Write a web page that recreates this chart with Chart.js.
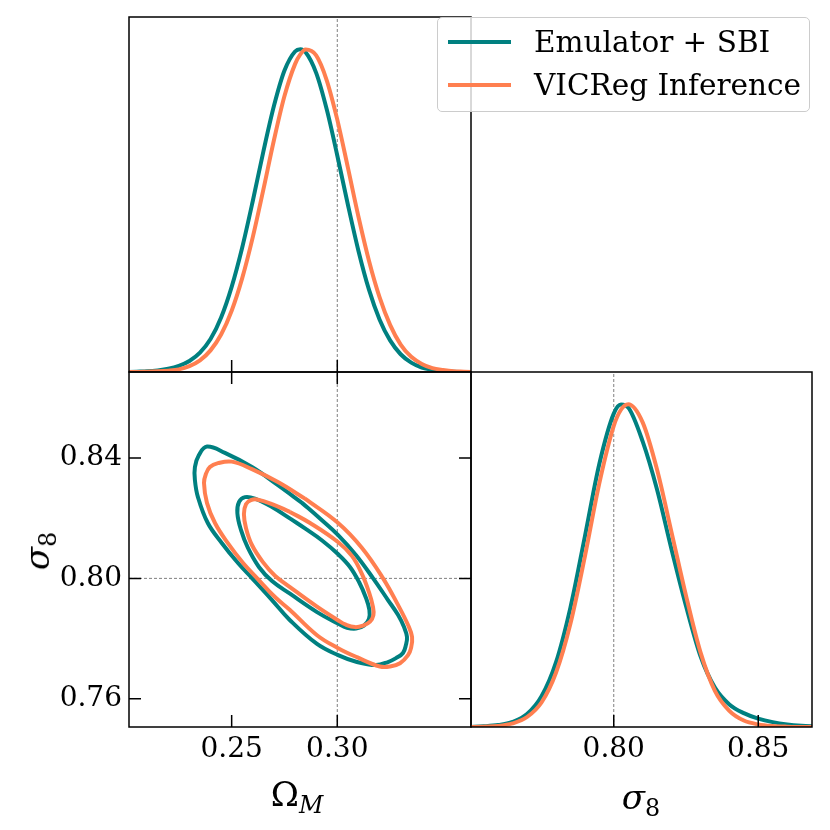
<!DOCTYPE html>
<html>
<head>
<meta charset="utf-8">
<script src="https://cdn.jsdelivr.net/npm/chart.js@4.4.1/dist/chart.umd.min.js"></script>
<style>
  body { margin: 0; background: #fff; }
  #wrap { position: relative; width: 830px; height: 830px; overflow: hidden; }
  #wrap canvas { position: absolute; left: 0; top: 0; }
  .ttl { position: absolute; font-family: "DejaVu Serif"; font-size: 34px; line-height: 1; color: #000;
         white-space: nowrap; transform: translate(-50%, -50%); }
  .ttl sub { font-size: 0.7em; vertical-align: -0.3em; line-height: 0; }
  #legend { position: absolute; left: 437px; top: 17px; width: 373px; height: 95px; box-sizing: border-box;
            border: 1px solid #cccccc; border-radius: 5px; background: rgba(255, 255, 255, 0.8);
            font-family: "DejaVu Serif"; font-size: 29.5px; line-height: 1; color: #000; }
  #legend .sw { position: absolute; left: 10px; width: 63px; height: 4px; }
  #legend .tx { position: absolute; left: 96px; white-space: nowrap; }
</style>
</head>
<body>
<div id="wrap">
  <canvas id="cornerTop" width="830" height="830"></canvas>
  <canvas id="cornerMid" width="830" height="830"></canvas>
  <canvas id="cornerRight" width="830" height="830"></canvas>
  <div class="ttl" style="left:297px; top:794px;">Ω<sub><i>M</i></sub></div>
  <div class="ttl" style="left:641px; top:797px;"><i>σ</i><sub>8</sub></div>
  <div class="ttl" style="left:37px; top:551px; transform: translate(-50%, -50%) rotate(-90deg);"><i>σ</i><sub>8</sub></div>
  <div id="legend">
    <span class="sw" style="top:22px; background:#008080;"></span>
    <span class="tx" style="top:10px;">Emulator + SBI</span>
    <span class="sw" style="top:65px; background:#ff7f50;"></span>
    <span class="tx" style="top:53px;">VICReg Inference</span>
  </div>
</div>
<script>
// axis ranges, ticks and true values
var omRange = [0.2014, 0.3633];
var s8Range = [0.7506, 0.8686];
var densRange = [0, 1.1];
var omTicks = [0.25, 0.30];
var s8TicksY = [0.76, 0.80, 0.84];
var s8TicksX = [0.80, 0.85];
var truthOm = 0.30;
var truthS8 = 0.80;

// 1D marginal of Omega_M (peak normalised to 1)
var omGrid = [0.200, 0.205, 0.210, 0.215, 0.220, 0.225, 0.230, 0.235, 0.240, 0.245, 0.250, 0.255, 0.260, 0.265, 0.270, 0.275,
    0.280, 0.2825, 0.285, 0.290, 0.295, 0.300, 0.305, 0.310, 0.315, 0.320, 0.325, 0.330, 0.335, 0.340, 0.345, 0.350, 0.355, 0.360, 0.365];
var omEmu = [0.000, 0.001, 0.002, 0.005, 0.010, 0.019, 0.034, 0.060, 0.102, 0.169, 0.264, 0.386, 0.530, 0.683, 0.824, 0.934,
    0.993, 1.000, 0.991, 0.927, 0.814, 0.671, 0.519, 0.376, 0.255, 0.163, 0.098, 0.055, 0.029, 0.014, 0.007, 0.003, 0.001, 0.000, 0.000];
var omVic = [0.000, 0.000, 0.001, 0.002, 0.004, 0.008, 0.018, 0.036, 0.067, 0.116, 0.190, 0.291, 0.418, 0.565, 0.718, 0.855,
    0.954, 0.984, 0.999, 0.981, 0.904, 0.782, 0.634, 0.482, 0.345, 0.232, 0.146, 0.085, 0.047, 0.025, 0.012, 0.006, 0.002, 0.001, 0.000];

// 1D marginal of sigma_8
var s8Grid = [0.750, 0.755, 0.760, 0.765, 0.770, 0.775, 0.780, 0.785, 0.790, 0.795, 0.800, 0.8025, 0.805,
    0.810, 0.815, 0.820, 0.825, 0.830, 0.835, 0.840, 0.845, 0.850, 0.855, 0.860, 0.865, 0.870];
var s8Emu = [0.000, 0.002, 0.006, 0.016, 0.040, 0.095, 0.200, 0.370, 0.590, 0.815, 0.971, 0.999, 0.990,
    0.885, 0.735, 0.550, 0.375, 0.220, 0.122, 0.070, 0.043, 0.026, 0.015, 0.008, 0.004, 0.002];
var s8Vic = [0.000, 0.001, 0.003, 0.011, 0.031, 0.076, 0.168, 0.320, 0.528, 0.755, 0.933, 0.983, 1.000,
    0.944, 0.797, 0.603, 0.407, 0.232, 0.112, 0.050, 0.020, 0.008, 0.003, 0.001, 0.000, 0.000];

// 2D contours (outer / inner)
var emuOuterOm = [0.2833, 0.2918, 0.3004, 0.3089, 0.3169, 0.3240, 0.3288, 0.3316, 0.3330, 0.3325, 0.3311, 0.3278, 0.3240, 0.3183, 0.3093, 0.3004,
    0.2904, 0.2776, 0.2691, 0.2596, 0.2530, 0.2454, 0.2387, 0.2340, 0.2326, 0.2326, 0.2345, 0.2383, 0.2468, 0.2596, 0.2719, 0.2833];
var emuOuterS8 = [0.8251, 0.8199, 0.8144, 0.8077, 0.8001, 0.7928, 0.7878, 0.7838, 0.7805, 0.7779, 0.7752, 0.7735, 0.7722, 0.7712, 0.7722, 0.7745,
    0.7782, 0.7861, 0.7928, 0.8001, 0.8051, 0.8117, 0.8184, 0.8271, 0.8327, 0.8370, 0.8410, 0.8438, 0.8417, 0.8370, 0.8310, 0.8251];
var vicOuterOm = [0.2847, 0.3004, 0.3117, 0.3216, 0.3288, 0.3335, 0.3354, 0.3349, 0.3335, 0.3297, 0.3250, 0.3202, 0.3093, 0.3004, 0.2904,
    0.2776, 0.2705, 0.2620, 0.2554, 0.2482, 0.2421, 0.2383, 0.2369, 0.2378, 0.2397, 0.2435, 0.2501, 0.2596, 0.2719, 0.2847];
var vicOuterS8 = [0.8265, 0.8184, 0.8101, 0.8001, 0.7911, 0.7845, 0.7805, 0.7768, 0.7745, 0.7718, 0.7707, 0.7707, 0.7738, 0.7768, 0.7811,
    0.7895, 0.7938, 0.8001, 0.8051, 0.8117, 0.8184, 0.8251, 0.8317, 0.8347, 0.8370, 0.8383, 0.8388, 0.8363, 0.8320, 0.8265];
var emuInnerOm = [0.2781, 0.2847, 0.2928, 0.3003, 0.3060, 0.3103, 0.3136, 0.3152, 0.3150, 0.3126, 0.3089, 0.3046, 0.3003,
    0.2904, 0.2776, 0.2691, 0.2629, 0.2577, 0.2544, 0.2527, 0.2535, 0.2563, 0.2610, 0.2691, 0.2781];
var emuInnerS8 = [0.8197, 0.8166, 0.8126, 0.8081, 0.8038, 0.7988, 0.7935, 0.7895, 0.7865, 0.7843, 0.7833, 0.7836, 0.7850,
    0.7888, 0.7949, 0.7991, 0.8038, 0.8101, 0.8161, 0.8217, 0.8254, 0.8270, 0.8265, 0.8237, 0.8197];
var vicInnerOm = [0.2776, 0.2871, 0.3003, 0.3070, 0.3117, 0.3150, 0.3169, 0.3171, 0.3155, 0.3122, 0.3084, 0.3041, 0.3003,
    0.2904, 0.2776, 0.2705, 0.2648, 0.2596, 0.2568, 0.2558, 0.2568, 0.2591, 0.2620, 0.2691, 0.2776];
var vicInnerS8 = [0.8221, 0.8184, 0.8121, 0.8074, 0.8014, 0.7954, 0.7905, 0.7878, 0.7856, 0.7843, 0.7838, 0.7846, 0.7861,
    0.7906, 0.7971, 0.8009, 0.8054, 0.8111, 0.8167, 0.8214, 0.8247, 0.8260, 0.8262, 0.8247, 0.8221];

var teal = "#008080";
var coral = "#ff7f50";
var tickFont = { family: "DejaVu Serif", size: 28 };

function pts(xs, ys) {
    return xs.map(function (x, i) { return { x: x, y: ys[i] }; });
}

function curve(data, color, order, smooth) {
    var ds = { data: data, showLine: true, pointRadius: 0, borderColor: color, borderWidth: 4, order: order };
    if (smooth === "monotone") ds.cubicInterpolationMode = "monotone";
    else ds.tension = 0.4;
    return ds;
}

function dashed(data) {
    return { data: data, showLine: true, pointRadius: 0, borderColor: "rgba(0,0,0,0.5)", borderWidth: 1, borderDash: [3, 2], order: 9 };
}

// black frame plus inward ticks, positions taken from the chart scales
function frame(sides) {
    return {
        id: "frame",
        afterDatasetsDraw: function (chart) {
            var a = chart.chartArea, ctx = chart.ctx, len = 12;
            var xs = chart.scales.x, ys = chart.scales.y;
            ctx.save();
            ctx.strokeStyle = "#000";
            ctx.lineWidth = 1.5;
            ctx.beginPath();
            (sides.bottom || []).forEach(function (v) { var p = xs.getPixelForValue(v); ctx.moveTo(p, a.bottom); ctx.lineTo(p, a.bottom - len); });
            (sides.top || []).forEach(function (v) { var p = xs.getPixelForValue(v); ctx.moveTo(p, a.top); ctx.lineTo(p, a.top + len); });
            (sides.left || []).forEach(function (v) { var p = ys.getPixelForValue(v); ctx.moveTo(a.left, p); ctx.lineTo(a.left + len, p); });
            (sides.right || []).forEach(function (v) { var p = ys.getPixelForValue(v); ctx.moveTo(a.right, p); ctx.lineTo(a.right - len, p); });
            ctx.stroke();
            ctx.strokeRect(a.left, a.top, a.right - a.left, a.bottom - a.top);
            ctx.restore();
        }
    };
}

function axis(range, ticks, pos, size, pad) {
    return {
        type: "linear",
        position: pos,
        min: range[0],
        max: range[1],
        grid: { display: false, drawTicks: false },
        border: { display: false },
        afterBuildTicks: function (s) { s.ticks = ticks.map(function (v) { return { value: v }; }); },
        afterFit: function (s) { if (pos === "bottom") s.height = size; else s.width = size; },
        ticks: {
            font: tickFont, color: "#000", padding: pad, maxRotation: 0, autoSkip: false,
            callback: function (v) { return v.toFixed(2); }
        }
    };
}

function hidden(range) {
    return { type: "linear", display: false, min: range[0], max: range[1] };
}

function baseOptions(padding, scales) {
    return {
        responsive: false,
        animation: false,
        events: [],
        layout: { padding: padding },
        plugins: { legend: { display: false }, tooltip: { enabled: false } },
        scales: scales
    };
}

// top-left: Omega_M marginal
new Chart(document.getElementById("cornerTop").getContext("2d"), {
    type: "scatter",
    data: {
        datasets: [
            curve(pts(omGrid, omVic), coral, 1, "monotone"),
            curve(pts(omGrid, omEmu), teal, 2, "monotone"),
            dashed([{ x: truthOm, y: densRange[0] }, { x: truthOm, y: densRange[1] }])
        ]
    },
    options: baseOptions({ left: 129, top: 17, right: 359, bottom: 458 },
        { x: hidden(omRange), y: hidden(densRange) }),
    plugins: [frame({ bottom: omTicks })]
});

// bottom-left: joint contours
new Chart(document.getElementById("cornerMid").getContext("2d"), {
    type: "scatter",
    data: {
        datasets: [
            curve(pts(vicOuterOm, vicOuterS8), coral, 1),
            curve(pts(vicInnerOm, vicInnerS8), coral, 1),
            curve(pts(emuOuterOm, emuOuterS8), teal, 2),
            curve(pts(emuInnerOm, emuInnerS8), teal, 2),
            dashed([{ x: truthOm, y: s8Range[0] }, { x: truthOm, y: s8Range[1] }]),
            dashed([{ x: omRange[0], y: truthS8 }, { x: omRange[1], y: truthS8 }])
        ]
    },
    options: baseOptions({ left: 0, top: 372, right: 359, bottom: 0 },
        { x: axis(omRange, omTicks, "bottom", 103, 6), y: axis(s8Range, s8TicksY, "left", 129, 7) }),
    plugins: [frame({ bottom: omTicks, top: omTicks, left: s8TicksY, right: s8TicksY })]
});

// bottom-right: sigma_8 marginal
new Chart(document.getElementById("cornerRight").getContext("2d"), {
    type: "scatter",
    data: {
        datasets: [
            curve(pts(s8Grid, s8Vic), coral, 1, "monotone"),
            curve(pts(s8Grid, s8Emu), teal, 2, "monotone"),
            dashed([{ x: truthS8, y: densRange[0] }, { x: truthS8, y: densRange[1] }])
        ]
    },
    options: baseOptions({ left: 471, top: 372, right: 18, bottom: 0 },
        { x: axis(s8Range, s8TicksX, "bottom", 103, 6), y: hidden(densRange) }),
    plugins: [frame({ bottom: s8TicksX })]
});
</script>
</body>
</html>
